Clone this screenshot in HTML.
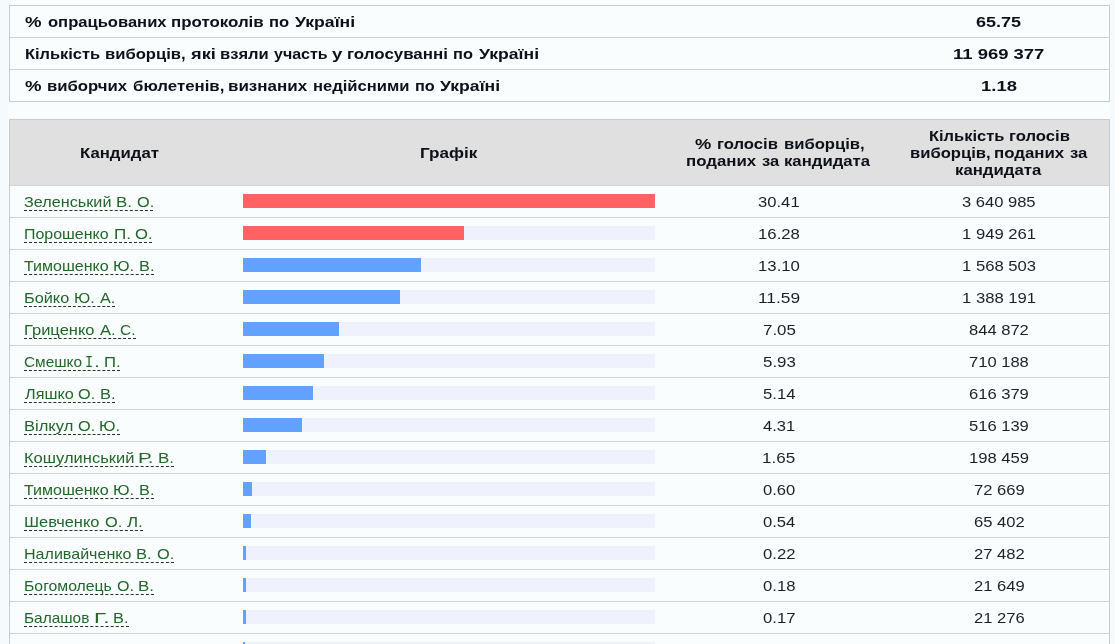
<!DOCTYPE html>
<html><head><meta charset="utf-8"><title>Results</title>
<style>
html,body{margin:0;padding:0}
body{background:#f5fafc;font-family:"Liberation Sans",sans-serif;font-size:15px;line-height:17px;color:#1a1a1a;width:1115px;height:644px;overflow:hidden;position:relative}
.wrap{position:absolute;left:8px;top:0;width:1102px;height:644px;background:#fafdfe}
.box{position:absolute;left:9px;width:1099px;border:1px solid #c8cacc;background:#fafdfe}
.hl{position:absolute;left:10px;width:1099px;height:1px;background:#cfd2d4}
.hd{position:absolute;left:10px;top:120px;width:1099px;height:65px;background:#e0e0e0}
.t{position:absolute;white-space:nowrap;height:17px;line-height:17px;transform-origin:0 50%}
.txt{position:absolute;left:0;top:0;width:1115px;height:644px;will-change:transform}
.k{font-weight:bold;color:#0d1018}
.d{color:#1c2026}
.n{color:#22662a}
.mo{font-family:"Liberation Mono","Liberation Sans",sans-serif;font-size:16.3px;margin-top:0.9px}
.u{position:absolute;height:0;border-bottom:1px dashed #1c3a20}
.tr{position:absolute;left:243px;width:412px;height:14px;background:#eff2fd}
.tr i{display:block;height:14px}
.r{background:#ff6262}.b{background:#62a2ff}
</style></head><body>
<div class="wrap"></div>

<div class="box" style="top:5px;height:95px"></div>
<div class="hl" style="top:37px"></div><div class="hl" style="top:69px"></div>
<div class="box" style="top:119px;height:600px"></div><div class="hd"></div>
<div class="hl" style="top:185px"></div>
<div class="hl" style="top:217px"></div>
<div class="hl" style="top:249px"></div>
<div class="hl" style="top:281px"></div>
<div class="hl" style="top:313px"></div>
<div class="hl" style="top:345px"></div>
<div class="hl" style="top:377px"></div>
<div class="hl" style="top:409px"></div>
<div class="hl" style="top:441px"></div>
<div class="hl" style="top:473px"></div>
<div class="hl" style="top:505px"></div>
<div class="hl" style="top:537px"></div>
<div class="hl" style="top:569px"></div>
<div class="hl" style="top:601px"></div>
<div class="hl" style="top:633px"></div>
<div class="hl" style="top:665px"></div>
<div class="txt">
<span class="t k" style="left:25.09px;top:13px;transform:scaleX(1.2392)">%</span>
<span class="t k" style="left:47.75px;top:13px;transform:scaleX(1.1044)">опрацьованих</span>
<span class="t k" style="left:171.47px;top:13px;transform:scaleX(1.1257)">протоколів</span>
<span class="t k" style="left:269.20px;top:13px;transform:scaleX(1.1045)">по</span>
<span class="t k" style="left:294.90px;top:13px;transform:scaleX(1.1741)">Україні</span>
<span class="t k" style="left:976.30px;top:13px;transform:scaleX(1.2027)">65.75</span>
<span class="t k" style="left:24.61px;top:45px;transform:scaleX(1.0925)">Кількість</span>
<span class="t k" style="left:104.99px;top:45px;transform:scaleX(1.1067)">виборців,</span>
<span class="t k" style="left:190.50px;top:45px;transform:scaleX(1.2154)">які</span>
<span class="t k" style="left:219.90px;top:45px;transform:scaleX(1.1030)">взяли</span>
<span class="t k" style="left:274.13px;top:45px;transform:scaleX(1.0667)">участь</span>
<span class="t k" style="left:331.89px;top:45px;transform:scaleX(1.2375)">у</span>
<span class="t k" style="left:347.17px;top:45px;transform:scaleX(1.1280)">голосуванні</span>
<span class="t k" style="left:453.01px;top:45px;transform:scaleX(1.0925)">по</span>
<span class="t k" style="left:478.60px;top:45px;transform:scaleX(1.1721)">Україні</span>
<span class="t k" style="left:953.17px;top:45px;transform:scaleX(1.2303)">11 969 377</span>
<span class="t k" style="left:25.09px;top:77px;transform:scaleX(1.2392)">%</span>
<span class="t k" style="left:47.19px;top:77px;transform:scaleX(1.1138)">виборчих</span>
<span class="t k" style="left:132.56px;top:77px;transform:scaleX(1.1210)">бюлетенів,</span>
<span class="t k" style="left:228.47px;top:77px;transform:scaleX(1.1316)">визнаних</span>
<span class="t k" style="left:312.80px;top:77px;transform:scaleX(1.1050)">недійсними</span>
<span class="t k" style="left:414.81px;top:77px;transform:scaleX(1.0866)">по</span>
<span class="t k" style="left:440.40px;top:77px;transform:scaleX(1.1741)">Україні</span>
<span class="t k" style="left:980.67px;top:77px;transform:scaleX(1.2324)">1.18</span>
<span class="t k" style="left:80.28px;top:144px;transform:scaleX(1.1162)">Кандидат</span>
<span class="t k" style="left:419.76px;top:144px;transform:scaleX(1.1411)">Графік</span>
<span class="t k" style="left:695.49px;top:135px;transform:scaleX(1.2235)">%</span>
<span class="t k" style="left:717.49px;top:135px;transform:scaleX(1.1117)">голосів</span>
<span class="t k" style="left:783.79px;top:135px;transform:scaleX(1.1081)">виборців,</span>
<span class="t k" style="left:686.38px;top:152px;transform:scaleX(1.1216)">поданих</span>
<span class="t k" style="left:761.65px;top:152px;transform:scaleX(1.1016)">за</span>
<span class="t k" style="left:784.39px;top:152px;transform:scaleX(1.1148)">кандидата</span>
<span class="t k" style="left:928.50px;top:127px;transform:scaleX(1.0970)">Кількість</span>
<span class="t k" style="left:1008.69px;top:127px;transform:scaleX(1.1117)">голосів</span>
<span class="t k" style="left:909.69px;top:144px;transform:scaleX(1.1067)">виборців,</span>
<span class="t k" style="left:994.28px;top:144px;transform:scaleX(1.1216)">поданих</span>
<span class="t k" style="left:1069.84px;top:144px;transform:scaleX(1.1148)">за</span>
<span class="t k" style="left:955.38px;top:161px;transform:scaleX(1.1174)">кандидата</span>
<span class="t n" style="left:24.26px;top:193px;transform:scaleX(1.0805)">Зеленський</span>
<span class="t n" style="left:116.30px;top:193px;transform:scaleX(1.1217)">В.</span>
<span class="t n" style="left:136.69px;top:193px;transform:scaleX(1.0836)">О.</span>
<span class="t d" style="left:758.35px;top:193px;transform:scaleX(1.1090)">30.41</span>
<span class="t d" style="left:962.35px;top:193px;transform:scaleX(1.1023)">3 640 985</span>
<span class="t n" style="left:24.37px;top:225px;transform:scaleX(1.0624)">Порошенко</span>
<span class="t n" style="left:113.98px;top:225px;transform:scaleX(1.1360)">П.</span>
<span class="t n" style="left:135.17px;top:225px;transform:scaleX(1.1055)">О.</span>
<span class="t d" style="left:757.78px;top:225px;transform:scaleX(1.1167)">16.28</span>
<span class="t d" style="left:961.79px;top:225px;transform:scaleX(1.1108)">1 949 261</span>
<span class="t n" style="left:24.23px;top:257px;transform:scaleX(1.0675)">Тимошенко</span>
<span class="t n" style="left:113.33px;top:257px;transform:scaleX(1.0925)">Ю.</span>
<span class="t n" style="left:139.14px;top:257px;transform:scaleX(1.0870)">В.</span>
<span class="t d" style="left:757.78px;top:257px;transform:scaleX(1.1167)">13.10</span>
<span class="t d" style="left:961.79px;top:257px;transform:scaleX(1.1108)">1 568 503</span>
<span class="t n" style="left:24.34px;top:289px;transform:scaleX(1.0868)">Бойко</span>
<span class="t n" style="left:74.16px;top:289px;transform:scaleX(1.0687)">Ю.</span>
<span class="t n" style="left:99.80px;top:289px;transform:scaleX(1.0824)">А.</span>
<span class="t d" style="left:757.74px;top:289px;transform:scaleX(1.1568)">11.59</span>
<span class="t d" style="left:961.79px;top:289px;transform:scaleX(1.1108)">1 388 191</span>
<span class="t n" style="left:24.33px;top:321px;transform:scaleX(1.0988)">Гриценко</span>
<span class="t n" style="left:100.10px;top:321px;transform:scaleX(1.1059)">А.</span>
<span class="t n" style="left:120.33px;top:321px;transform:scaleX(1.0308)">С.</span>
<span class="t d" style="left:762.56px;top:321px;transform:scaleX(1.1243)">7.05</span>
<span class="t d" style="left:969.07px;top:321px;transform:scaleX(1.1033)">844 872</span>
<span class="t n" style="left:24.43px;top:353px;transform:scaleX(1.0262)">Смешко</span>
<span class="t n mo" style="left:84.86px;top:353px;transform:scaleX(0.8296)">І</span>
<span class="t n" style="left:93.65px;top:353px;transform:scaleX(1.4000)">.</span>
<span class="t n" style="left:103.91px;top:353px;transform:scaleX(1.1120)">П.</span>
<span class="t d" style="left:762.56px;top:353px;transform:scaleX(1.1243)">5.93</span>
<span class="t d" style="left:969.07px;top:353px;transform:scaleX(1.1033)">710 188</span>
<span class="t n" style="left:24.80px;top:385px;transform:scaleX(1.0809)">Ляшко</span>
<span class="t n" style="left:78.09px;top:385px;transform:scaleX(1.0836)">О.</span>
<span class="t n" style="left:99.93px;top:385px;transform:scaleX(1.0957)">В.</span>
<span class="t d" style="left:762.56px;top:385px;transform:scaleX(1.1143)">5.14</span>
<span class="t d" style="left:969.07px;top:385px;transform:scaleX(1.1033)">616 379</span>
<span class="t n" style="left:24.32px;top:417px;transform:scaleX(1.1012)">Вілкул</span>
<span class="t n" style="left:78.09px;top:417px;transform:scaleX(1.0836)">О.</span>
<span class="t n" style="left:99.14px;top:417px;transform:scaleX(1.0866)">Ю.</span>
<span class="t d" style="left:763.12px;top:417px;transform:scaleX(1.1044)">4.31</span>
<span class="t d" style="left:969.07px;top:417px;transform:scaleX(1.1033)">516 139</span>
<span class="t n" style="left:24.32px;top:449px;transform:scaleX(1.1010)">Кошулинський</span>
<span class="t n" style="left:138.29px;top:449px;transform:scaleX(1.3714)">Р.</span>
<span class="t n" style="left:157.99px;top:449px;transform:scaleX(1.1304)">В.</span>
<span class="t d" style="left:762.27px;top:449px;transform:scaleX(1.1345)">1.65</span>
<span class="t d" style="left:968.79px;top:449px;transform:scaleX(1.1086)">198 459</span>
<span class="t n" style="left:24.23px;top:481px;transform:scaleX(1.0675)">Тимошенко</span>
<span class="t n" style="left:113.33px;top:481px;transform:scaleX(1.0925)">Ю.</span>
<span class="t n" style="left:139.14px;top:481px;transform:scaleX(1.0870)">В.</span>
<span class="t d" style="left:762.85px;top:481px;transform:scaleX(1.1044)">0.60</span>
<span class="t d" style="left:973.57px;top:481px;transform:scaleX(1.1056)">72 669</span>
<span class="t n" style="left:24.33px;top:513px;transform:scaleX(1.0940)">Шевченко</span>
<span class="t n" style="left:104.88px;top:513px;transform:scaleX(1.0909)">О.</span>
<span class="t n" style="left:127.10px;top:513px;transform:scaleX(1.1294)">Л.</span>
<span class="t d" style="left:762.85px;top:513px;transform:scaleX(1.1044)">0.54</span>
<span class="t d" style="left:973.57px;top:513px;transform:scaleX(1.1056)">65 402</span>
<span class="t n" style="left:24.36px;top:545px;transform:scaleX(1.0701)">Наливайченко</span>
<span class="t n" style="left:136.42px;top:545px;transform:scaleX(1.1043)">В.</span>
<span class="t n" style="left:157.08px;top:545px;transform:scaleX(1.0909)">О.</span>
<span class="t d" style="left:762.84px;top:545px;transform:scaleX(1.1143)">0.22</span>
<span class="t d" style="left:973.57px;top:545px;transform:scaleX(1.1056)">27 482</span>
<span class="t n" style="left:24.19px;top:577px;transform:scaleX(1.0520)">Богомолець</span>
<span class="t n" style="left:117.10px;top:577px;transform:scaleX(1.0691)">О.</span>
<span class="t n" style="left:138.40px;top:577px;transform:scaleX(1.1217)">В.</span>
<span class="t d" style="left:762.84px;top:577px;transform:scaleX(1.1143)">0.18</span>
<span class="t d" style="left:973.57px;top:577px;transform:scaleX(1.1056)">21 649</span>
<span class="t n" style="left:24.22px;top:609px;transform:scaleX(1.0267)">Балашов</span>
<span class="t n" style="left:93.74px;top:609px;transform:scaleX(1.4875)">Г.</span>
<span class="t n" style="left:113.33px;top:609px;transform:scaleX(1.0957)">В.</span>
<span class="t d" style="left:762.84px;top:609px;transform:scaleX(1.1143)">0.17</span>
<span class="t d" style="left:973.57px;top:609px;transform:scaleX(1.1056)">21 276</span>
<span class="t n" style="left:24.29px;top:641px;transform:scaleX(1.1254)">Петров</span>
<span class="t n" style="left:85.69px;top:641px;transform:scaleX(1.0836)">О.</span>
<span class="t n" style="left:107.21px;top:641px;transform:scaleX(1.0357)">М.</span>
<span class="t d" style="left:762.84px;top:641px;transform:scaleX(1.1143)">0.15</span>
<span class="t d" style="left:973.29px;top:641px;transform:scaleX(1.1119)">18 918</span>
</div>
<div class="u" style="left:24px;top:210px;width:129px"></div>
<div class="tr" style="top:194px"><i class="r" style="width:412px"></i></div>
<div class="u" style="left:24px;top:242px;width:128px"></div>
<div class="tr" style="top:226px"><i class="r" style="width:221px"></i></div>
<div class="u" style="left:24px;top:274px;width:130px"></div>
<div class="tr" style="top:258px"><i class="b" style="width:178px"></i></div>
<div class="u" style="left:24px;top:306px;width:91px"></div>
<div class="tr" style="top:290px"><i class="b" style="width:157px"></i></div>
<div class="u" style="left:24px;top:338px;width:112px"></div>
<div class="tr" style="top:322px"><i class="b" style="width:96px"></i></div>
<div class="u" style="left:24px;top:370px;width:96px"></div>
<div class="tr" style="top:354px"><i class="b" style="width:81px"></i></div>
<div class="u" style="left:24px;top:402px;width:91px"></div>
<div class="tr" style="top:386px"><i class="b" style="width:70px"></i></div>
<div class="u" style="left:24px;top:434px;width:96px"></div>
<div class="tr" style="top:418px"><i class="b" style="width:59px"></i></div>
<div class="u" style="left:24px;top:466px;width:150px"></div>
<div class="tr" style="top:450px"><i class="b" style="width:23px"></i></div>
<div class="u" style="left:24px;top:498px;width:130px"></div>
<div class="tr" style="top:482px"><i class="b" style="width:9px"></i></div>
<div class="u" style="left:24px;top:530px;width:119px"></div>
<div class="tr" style="top:514px"><i class="b" style="width:8px"></i></div>
<div class="u" style="left:24px;top:562px;width:150px"></div>
<div class="tr" style="top:546px"><i class="b" style="width:3px"></i></div>
<div class="u" style="left:24px;top:594px;width:130px"></div>
<div class="tr" style="top:578px"><i class="b" style="width:3px"></i></div>
<div class="u" style="left:24px;top:626px;width:105px"></div>
<div class="tr" style="top:610px"><i class="b" style="width:3px"></i></div>
<div class="u" style="left:24px;top:658px;width:100px"></div>
<div class="tr" style="top:642px"><i class="b" style="width:2px"></i></div>
</body></html>
